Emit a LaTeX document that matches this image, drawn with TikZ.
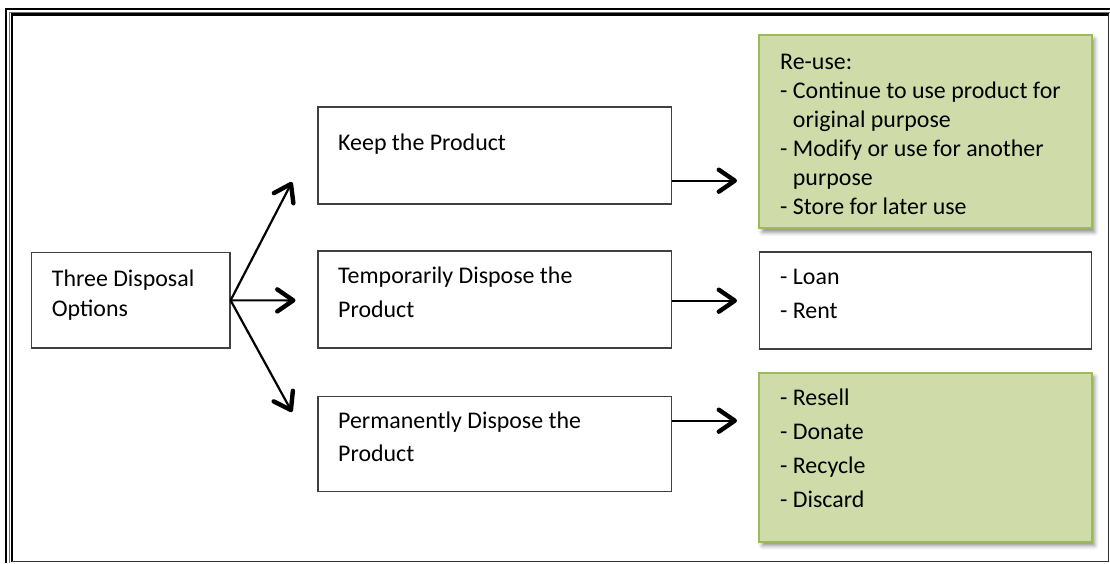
\documentclass[tikz,border=0pt]{standalone}
\usepackage{fontspec}
\setmainfont{Carlito}
\usetikzlibrary{arrows.meta,shadows.blur}
\definecolor{boxgreen}{HTML}{CFDCAA}
\definecolor{greenedge}{HTML}{9BBB59}
\definecolor{boxedge}{HTML}{404040}

\begin{document}
\begin{tikzpicture}[x=1pt,y=-1pt,
  plain/.style={draw=boxedge,line width=1.2pt,fill=white,inner sep=0pt},
  greenbox/.style={draw=greenedge,line width=2pt,fill=boxgreen,inner sep=0pt,
    blur shadow={shadow xshift=3pt,shadow yshift=-4pt,shadow blur radius=4pt,shadow opacity=45}},
  txt/.style={anchor=base west,inner sep=0pt,font=\fontsize{23.9}{29}\selectfont},
  link/.style={line width=2.2pt,-{Straight Barb[length=16pt,width=22pt,line width=4.4pt,round]}}]

\useasboundingbox (0,0) rectangle (1110,563);

% triple frame
\draw[line width=2.4pt] (6.2,563) -- (6.2,9.2) -- (1110,9.2);
\draw[black!55,line width=1pt] (9.2,563) -- (9.2,12) -- (1110,12);
\draw[line width=2.2pt] (11.7,562) -- (11.7,14.4) -- (1108.5,14.4);
\draw[black!80,line width=1pt] (1108.5,14.4) -- (1108.5,561.5) -- (11.7,561.5);

% boxes
\node[plain,minimum width=198.3pt,minimum height=95.3pt] (tdo) at (130.85,300.35) {};
\node[plain,minimum width=353.7pt,minimum height=97pt] (keep) at (494.85,155.5) {};
\node[plain,minimum width=353.7pt,minimum height=97pt] (temp) at (494.85,299.5) {};
\node[plain,minimum width=353.7pt,minimum height=95pt] (perm) at (494.85,444.2) {};
\node[greenbox,minimum width=332.4pt,minimum height=193.3pt] (reuse) at (925.5,131.65) {};
\node[plain,minimum width=332.4pt,minimum height=97pt] (loan) at (925.5,300.5) {};
\node[greenbox,minimum width=332.4pt,minimum height=169pt] (gone) at (925.5,457.2) {};

% texts
\node[txt] (tdoa) at (51.7,286.7) {Three Disposal};
\node[txt] (tdob) at (51.7,316.7) {Options};
\node[txt] (keepa) at (338,150) {Keep the Product};
\node[txt] (tempa) at (338,283) {Temporarily Dispose the};
\node[txt] (tempb) at (338,317) {Product};
\node[txt] (perma) at (338,428.3) {Permanently Dispose the};
\node[txt] (permb) at (338,461.7) {Product};
\node[txt] (ra) at (780,69.3) {Re-use:};
\node[txt] (rb) at (780,98.4) {- Continue to use product for};
\node[txt] (rc) at (780,127.5) {\phantom{- }original purpose};
\node[txt] (rd) at (780,156.6) {- Modify or use for another};
\node[txt] (re) at (780,185.7) {\phantom{- }purpose};
\node[txt] (rf) at (780,214.8) {- Store for later use};
\node[txt] (la) at (780,284) {- Loan};
\node[txt] (lb) at (780,318) {- Rent};
\node[txt] (ga) at (780,405.7) {- Resell};
\node[txt] (gb) at (780,439.5) {- Donate};
\node[txt] (gc) at (780,473.3) {- Recycle};
\node[txt] (gd) at (780,507) {- Discard};

% arrow tips
\coordinate (tk) at (292,182);
\coordinate (tt) at (295.5,300.4);
\coordinate (tp) at (292,412);
\coordinate (rk) at (737,180.7);
\coordinate (rt) at (737,300.7);
\coordinate (rp) at (737,420.7);

% connectors
\draw[link] (tdo.east) -- (tk);
\draw[link] (tdo.east) -- (tt);
\draw[link] (tdo.east) -- (tp);
\draw[link] (keep.east |- rk) -- (rk);
\draw[link] (temp.east |- rt) -- (rt);
\draw[link] (perm.east |- rp) -- (rp);
\end{tikzpicture}
\end{document}
